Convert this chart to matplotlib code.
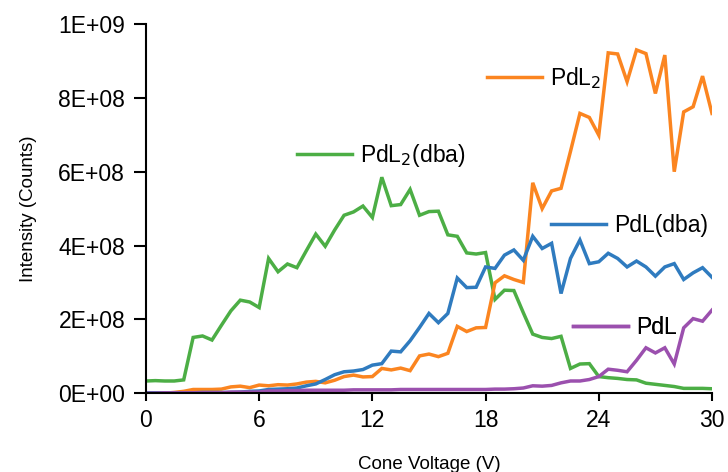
import numpy as np
import matplotlib.pyplot as plt
from matplotlib.ticker import FuncFormatter, MultipleLocator

plt.rcParams['font.family'] = ['Liberation Sans', 'DejaVu Sans']

# cone voltage sweep, 0.5 V steps
voltage = np.arange(0, 30.01, 0.5)

# intensities in units of 1E+08 counts
pdl2_dba = [0.33, 0.34, 0.33, 0.33, 0.36, 1.51, 1.55, 1.44, 1.84, 2.23,
            2.52, 2.47, 2.32, 3.65, 3.29, 3.50, 3.40, 3.86, 4.31, 3.98,
            4.42, 4.82, 4.91, 5.07, 4.76, 5.85, 5.08, 5.11, 5.52, 4.82,
            4.92, 4.93, 4.29, 4.25, 3.80, 3.77, 3.81, 2.54, 2.79, 2.78,
            2.18, 1.60, 1.51, 1.48, 1.54, 0.67, 0.79, 0.80, 0.45, 0.42,
            0.40, 0.37, 0.36, 0.27, 0.24, 0.21, 0.18, 0.13, 0.13, 0.13, 0.12]

pdl_dba = [0.01, 0.01, 0.01, 0.01, 0.01, 0.01, 0.02, 0.02, 0.02, 0.02,
           0.03, 0.05, 0.06, 0.10, 0.11, 0.12, 0.14, 0.20, 0.25, 0.37,
           0.50, 0.58, 0.60, 0.64, 0.76, 0.80, 1.14, 1.12, 1.42, 1.78,
           2.16, 1.91, 2.16, 3.12, 2.86, 2.87, 3.42, 3.38, 3.74, 3.88,
           3.60, 4.25, 3.92, 4.06, 2.70, 3.65, 4.15, 3.51, 3.56, 3.79,
           3.65, 3.42, 3.58, 3.42, 3.17, 3.42, 3.51, 3.08, 3.26, 3.40, 3.14]

pdl2 = [0.00, 0.00, 0.00, 0.02, 0.05, 0.10, 0.10, 0.10, 0.11, 0.17,
        0.19, 0.15, 0.22, 0.20, 0.23, 0.22, 0.25, 0.30, 0.32, 0.28,
        0.35, 0.45, 0.49, 0.44, 0.45, 0.67, 0.63, 0.68, 0.61, 1.01,
        1.06, 0.99, 1.08, 1.81, 1.67, 1.77, 1.78, 2.99, 3.18, 3.08,
        3.00, 5.70, 5.00, 5.48, 5.55, 6.55, 7.58, 7.47, 6.99, 9.22,
        9.19, 8.44, 9.30, 9.20, 8.12, 9.16, 6.00, 7.62, 7.76, 8.59, 7.58]

pdl = [0.00, 0.00, 0.01, 0.01, 0.01, 0.01, 0.01, 0.01, 0.01, 0.03,
       0.03, 0.03, 0.03, 0.06, 0.06, 0.07, 0.07, 0.08, 0.08, 0.08,
       0.08, 0.08, 0.09, 0.09, 0.09, 0.09, 0.09, 0.10, 0.10, 0.10,
       0.10, 0.10, 0.10, 0.10, 0.10, 0.10, 0.10, 0.11, 0.11, 0.12,
       0.14, 0.20, 0.19, 0.21, 0.28, 0.33, 0.33, 0.37, 0.45, 0.65,
       0.62, 0.58, 0.89, 1.23, 1.09, 1.23, 0.79, 1.77, 2.02, 1.95, 2.25]

series = [
    ('PdL$_2$(dba)', pdl2_dba, '#4cae45', (0.267, 0.68)),
    ('PdL$_2$', pdl2, '#fb8520', (0.602, 0.89)),
    ('PdL(dba)', pdl_dba, '#2f7bbf', (0.716, 0.485)),
    ('PdL', pdl, '#9b50ae', (0.754, 0.21)),
]

fig = plt.figure(figsize=(7.28, 4.72), dpi=100)
ax = fig.add_axes([0.2005, 0.167, 0.7775, 0.782])

for name, vals, color, anchor in series:
    line, = ax.plot(voltage, np.array(vals) * 1e8, color=color, linewidth=2.5,
                    solid_joinstyle='miter')
    # each series gets its own floating key next to its curve
    leg = ax.legend([line], [name], loc='upper left', bbox_to_anchor=anchor,
                    frameon=False, handlelength=2.4, handletextpad=0.35,
                    fontsize=16.5, borderpad=0, borderaxespad=0)
    ax.add_artist(leg)

ax.set_xlim(0, 30)
ax.set_ylim(0, 1e9)
ax.xaxis.set_major_locator(MultipleLocator(6))
ax.yaxis.set_major_locator(MultipleLocator(2e8))
ax.yaxis.set_major_formatter(FuncFormatter(lambda v, p: '%.0E' % v))

for side in ('top', 'right'):
    ax.spines[side].set_visible(False)
for side in ('left', 'bottom'):
    ax.spines[side].set_linewidth(1.5)
ax.tick_params(direction='out', width=1.5, labelsize=16.5)
ax.tick_params(axis='y', length=9, pad=6)
ax.tick_params(axis='x', length=5.5, pad=6)

ax.set_xlabel('Cone Voltage (V)', fontsize=13.5, labelpad=17)
ax.set_ylabel('Intensity (Counts)', fontsize=13.5, labelpad=15)

fig.savefig('out.png', dpi=100)
